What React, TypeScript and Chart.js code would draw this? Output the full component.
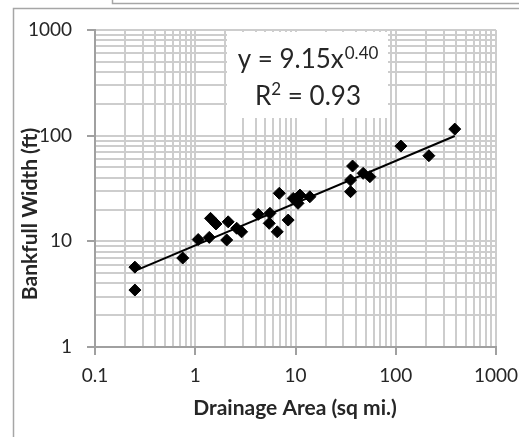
import React, { useEffect, useRef } from "react";
import { Chart, registerables } from "chart.js";

Chart.register(...registerables);

// Observed data (drainage area, sq mi.) and bankfull width (ft)
const drainageArea = [
  0.25, 0.25, 0.75, 1.07, 1.38, 1.42, 1.61, 2.13, 2.06, 2.59, 2.9,
  4.25, 5.56, 5.47, 6.58, 6.89, 8.45, 9.49, 11.07, 10.6, 13.9,
  37.1, 35.4, 35.4, 47.3, 55.2, 112.5, 214, 388,
];
const bankfullWidth = [
  5.7, 3.46, 6.95, 10.4, 10.9, 16.5, 14.6, 15.3, 10.3, 13.3, 12.3,
  18.0, 18.4, 14.8, 12.3, 28.5, 15.9, 25.5, 27.4, 22.9, 26.4,
  51.6, 38.0, 29.5, 44.0, 40.9, 79.7, 64.6, 115.4,
];

// Power-law trend line y = a * x^b
const trendCoef = 9.15;
const trendExp = 0.4;
const trendRange = [0.25, 388];
const equationText = "y = 9.15x";
const equationExp = "0.40";
const r2Text = "= 0.93";

const xDecades = [0.1, 1, 10, 100];
const yDecades = [1, 10, 100];
const xMin = 0.1, xMax = 1000;
const yMin = 1, yMax = 1000;

const xTitle = "Drainage Area (sq mi.)";
const yTitle = "Bankfull Width (ft)";

const FONT = "Lato, 'Open Sans', sans-serif";

function gridValues(decades: number[], top: number) {
  const v: number[] = [];
  decades.forEach((d) => {
    for (let m = 1; m <= 9; m++) v.push(+(d * m).toPrecision(6));
  });
  v.push(top);
  return v;
}
const isPow10 = (v: number) => Math.abs(Math.log10(v) - Math.round(Math.log10(v))) < 1e-9;

const decorPlugin = {
  id: "decor",
  beforeDraw(chart: any) {
    const ctx = chart.ctx;
    ctx.save();
    ctx.fillStyle = "#ffffff";
    ctx.fillRect(0, 0, chart.width, chart.height);
    ctx.strokeStyle = "#a6a6a6";
    ctx.lineWidth = 1.5;
    ctx.beginPath();
    ctx.moveTo(13.5, chart.height);
    ctx.lineTo(13.5, 8.5);
    ctx.lineTo(chart.width, 8.5);
    ctx.moveTo(112.5, 0);
    ctx.lineTo(112.5, 3.5);
    ctx.lineTo(chart.width, 3.5);
    ctx.stroke();
    ctx.restore();
  },
  afterDraw(chart: any) {
    const ctx = chart.ctx;
    ctx.save();
    // equation box
    ctx.fillStyle = "#ffffff";
    ctx.fillRect(227, 32, 161, 86);
    ctx.fillStyle = "#262626";
    ctx.textBaseline = "alphabetic";
    const bigFont = `26px ${FONT}`;
    const supFont = `17px ${FONT}`;
    ctx.font = bigFont;
    const w1 = ctx.measureText(equationText).width;
    ctx.font = supFont;
    const w2 = ctx.measureText(equationExp).width;
    const cx = 308;
    let x0 = cx - (w1 + w2 + 1) / 2;
    ctx.font = bigFont;
    ctx.textAlign = "left";
    ctx.fillText(equationText, x0, 68);
    ctx.font = supFont;
    ctx.fillText(equationExp, x0 + w1 + 1, 59);
    // R^2 line
    ctx.font = bigFont;
    const wR = ctx.measureText("R").width;
    ctx.font = supFont;
    const w2s = ctx.measureText("2").width;
    ctx.font = bigFont;
    const wRest = ctx.measureText(" " + r2Text).width;
    x0 = cx - (wR + w2s + wRest) / 2;
    ctx.fillText("R", x0, 105);
    ctx.font = supFont;
    ctx.fillText("2", x0 + wR, 95);
    ctx.font = bigFont;
    ctx.fillText(" " + r2Text, x0 + wR + w2s, 105);

    // axis titles
    ctx.font = `bold 21px ${FONT}`;
    ctx.fillStyle = "#262626";
    ctx.textAlign = "center";
    ctx.textBaseline = "middle";
    ctx.fillText(xTitle, 295, 408);
    ctx.translate(30, 214);
    ctx.rotate(-Math.PI / 2);
    ctx.fillText(yTitle, 0, 0);
    ctx.restore();
  },
};

export default function App() {
  const ref = useRef<HTMLCanvasElement | null>(null);
  useEffect(() => {
    if (!ref.current) return;
    const pts = drainageArea.map((x, i) => ({ x, y: bankfullWidth[i] }));
    const trend = trendRange.map((x) => ({ x, y: trendCoef * Math.pow(x, trendExp) }));
    const xg = gridValues(xDecades, xMax);
    const yg = gridValues(yDecades, yMax);
    const gridColor = "#cdcdcd";
    const axisColor = "#a0a0a0";
    const chart = new Chart(ref.current, {
      type: "scatter",
      data: {
        datasets: [
          {
            type: "line" as any,
            data: trend,
            borderColor: "#000000",
            borderWidth: 2,
            pointRadius: 0,
            fill: false,
            order: 1,
          },
          {
            data: pts,
            pointStyle: "rectRot",
            pointRadius: 6,
            backgroundColor: "#000000",
            borderColor: "#000000",
            borderWidth: 1,
            order: 0,
          },
        ],
      },
      options: {
        responsive: false,
        animation: false,
        layout: { padding: { left: 0, top: 30, right: 23, bottom: 0 } },
        plugins: { legend: { display: false }, tooltip: { enabled: false } },
        scales: {
          x: {
            type: "logarithmic",
            min: xMin,
            max: xMax,
            afterBuildTicks: (s: any) => {
              s.ticks = xg.map((v) => ({ value: v, major: isPow10(v) }));
            },
            afterFit: (s: any) => {
              s.height = 90;
              s.paddingLeft = 0;
              s.paddingRight = 0;
            },
            ticks: {
              autoSkip: false,
              maxRotation: 0,
              padding: 9,
              color: "#262626",
              font: { family: FONT, size: 19 },
              callback: (v: any) => (isPow10(Number(v)) ? String(Number(v)) : ""),
            },
            grid: {
              color: gridColor,
              lineWidth: 2,
              tickLength: 8,
              tickWidth: 2,
              tickColor: (c: any) => (c.tick && isPow10(c.tick.value) ? axisColor : "rgba(0,0,0,0)"),
            },
            border: { color: axisColor, width: 2 },
          },
          y: {
            type: "logarithmic",
            min: yMin,
            max: yMax,
            afterBuildTicks: (s: any) => {
              s.ticks = yg.map((v) => ({ value: v, major: isPow10(v) }));
            },
            afterFit: (s: any) => {
              s.width = 95;
              s.paddingTop = 0;
              s.paddingBottom = 0;
            },
            ticks: {
              autoSkip: false,
              padding: 15,
              color: "#262626",
              font: { family: FONT, size: 19 },
              callback: (v: any) => (isPow10(Number(v)) ? String(Number(v)) : ""),
            },
            grid: {
              color: gridColor,
              lineWidth: 2,
              tickLength: 8,
              tickWidth: 2,
              tickColor: (c: any) => (c.tick && isPow10(c.tick.value) ? axisColor : "rgba(0,0,0,0)"),
            },
            border: { color: axisColor, width: 2 },
          },
        },
      },
      plugins: [decorPlugin],
    });
    return () => chart.destroy();
  }, []);
  return (
    <div style={{ position: "fixed", left: 0, top: 0, width: 519, height: 437 }}>
      <canvas ref={ref} width={519} height={437} style={{ width: 519, height: 437 }} />
    </div>
  );
}
